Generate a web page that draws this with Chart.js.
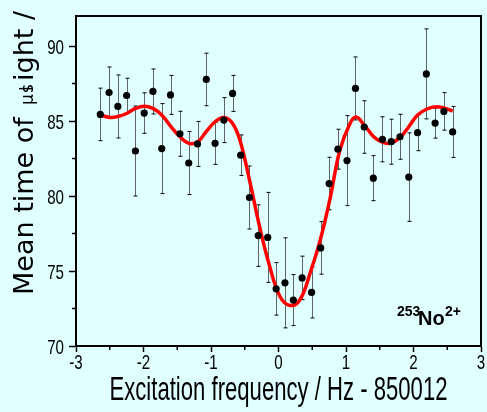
<!DOCTYPE html>
<html>
<head>
<meta charset="utf-8">
<script src="https://cdn.jsdelivr.net/npm/chart.js@4.4.1/dist/chart.umd.min.js"></script>
<style>
  html, body { margin: 0; padding: 0; background: #e0ffff; }
  canvas { display: block; }
</style>
</head>
<body>
<canvas id="tof" width="487" height="412"></canvas>
<script>
/* measured points (freq offset in Hz, mean TOF in µs, 1σ error) */
const FREQ = [
  -2.64, -2.51, -2.38, -2.25, -2.12, -1.99, -1.86, -1.73, -1.60, -1.46,
  -1.33, -1.20, -1.07, -0.94, -0.81, -0.68, -0.56, -0.43, -0.30, -0.16,
  -0.035, 0.096, 0.22, 0.35, 0.49, 0.625, 0.75, 0.88, 1.015, 1.14,
  1.27, 1.405, 1.54, 1.67, 1.80, 1.93, 2.06, 2.19, 2.32, 2.45, 2.58
];
const TOF = [
  85.44, 86.90, 85.97, 86.70, 83.00, 85.53, 86.97, 83.16, 86.74, 84.15,
  82.20, 83.47, 87.77, 83.51, 85.06, 86.84, 82.72, 79.90, 77.36, 77.24,
  73.81, 74.21, 73.06, 74.54, 73.57, 76.54, 80.83, 83.12, 82.36, 87.17,
  84.60, 81.19, 83.78, 83.62, 83.95, 81.26, 84.22, 88.14, 84.86, 85.64,
  84.27
];
const TOF_ERR = [
  1.75, 1.70, 2.10, 1.15, 3.00, 1.35, 1.50, 3.00, 1.30, 1.50,
  2.10, 1.50, 1.75, 1.40, 1.50, 1.20, 1.35, 2.10, 2.05, 3.00,
  1.75, 3.00, 1.70, 1.45, 1.70, 1.75, 1.75, 1.33, 3.00, 2.10,
  1.75, 1.50, 1.50, 1.50, 1.50, 2.95, 1.20, 3.00, 1.00, 1.25,
  1.70
];

/* fitted resonance curve */
const FIT_FREQ = [
  -2.64, -2.50, -2.38, -2.25, -2.12, -1.99, -1.86, -1.73, -1.60, -1.46,
  -1.33, -1.20, -1.07, -0.94, -0.81, -0.68, -0.57, -0.42, -0.27, -0.13,
  0.02, 0.17, 0.32, 0.47, 0.62, 0.76, 0.91, 1.06, 1.15, 1.27,
  1.41, 1.53, 1.65, 1.80, 1.93, 2.06, 2.20, 2.34, 2.46, 2.58
];
const FIT_TOF = [
  85.40, 85.24, 85.30, 85.50, 85.84, 85.99, 85.84, 85.40, 84.66, 83.95,
  83.51, 83.60, 84.30, 84.95, 85.24, 84.84, 83.70, 80.86, 77.75, 75.30,
  73.32, 72.70, 73.10, 74.88, 77.09, 79.75, 83.07, 84.84, 85.26, 84.73,
  83.95, 83.60, 83.51, 83.89, 84.62, 85.40, 85.80, 85.95, 85.85, 85.66
];

const X_TICKS = [-3, -2, -1, 0, 1, 2, 3];
const Y_TICKS = [70, 75, 80, 85, 90];
const X_MINOR = [-2.5, -1.5, -0.5, 0.5, 1.5, 2.5];
const Y_MINOR = [72.5, 77.5, 82.5, 87.5];
const X_TITLE = "Excitation frequency / Hz - 850012";

const SANS = "'Liberation Sans', Arial, sans-serif";
const WIDE = "'DejaVu Sans', Verdana, sans-serif";
const BG = "#e0ffff";

// the source figure uses a condensed face; squeeze regular text horizontally
function narrowText(ctx, text, x, y, font, align, sx) {
  ctx.save();
  ctx.font = font;
  ctx.textAlign = align;
  ctx.textBaseline = "alphabetic";
  ctx.translate(x, y);
  ctx.scale(sx, 1);
  ctx.fillText(text, 0, 0);
  ctx.restore();
}

/* ── plugins ─────────────────────────────────────────── */
const background = {
  id: "background",
  beforeDraw(chart) {
    const { ctx, width, height } = chart;
    ctx.save();
    ctx.fillStyle = BG;
    ctx.fillRect(0, 0, width, height);
    ctx.restore();
  },
};

const errorBars = {
  id: "errorBars",
  beforeDatasetsDraw(chart) {
    const { ctx, scales: { x, y } } = chart;
    ctx.save();
    FREQ.forEach((f, i) => {
      const px = Math.round(x.getPixelForValue(f)) + 0.5;
      const top = y.getPixelForValue(TOF[i] + TOF_ERR[i]);
      const bot = y.getPixelForValue(TOF[i] - TOF_ERR[i]);
      ctx.strokeStyle = "#5c6464";
      ctx.lineWidth = 1;
      ctx.beginPath();
      ctx.moveTo(px, top);
      ctx.lineTo(px, bot);
      ctx.stroke();
      ctx.strokeStyle = "#000";
      ctx.beginPath();
      ctx.moveTo(px - 2, top); ctx.lineTo(px + 2, top);
      ctx.moveTo(px - 2, bot); ctx.lineTo(px + 2, bot);
      ctx.stroke();
    });
    ctx.restore();
  },
};

const decor = {
  id: "decor",
  afterDraw(chart) {
    const { ctx, chartArea: a, scales: { x, y } } = chart;
    ctx.save();

    // frame: top + right
    ctx.strokeStyle = "#000";
    ctx.lineWidth = 2;
    ctx.beginPath();
    ctx.moveTo(a.left - 1, a.top);
    ctx.lineTo(a.right, a.top);
    ctx.lineTo(a.right, a.bottom + 1);
    ctx.stroke();

    // minor ticks
    ctx.lineWidth = 1.5;
    ctx.beginPath();
    X_MINOR.forEach(v => {
      const px = x.getPixelForValue(v);
      ctx.moveTo(px, a.bottom); ctx.lineTo(px, a.bottom + 4);
    });
    Y_MINOR.forEach(v => {
      const py = y.getPixelForValue(v);
      ctx.moveTo(a.left, py); ctx.lineTo(a.left - 4, py);
    });
    ctx.stroke();

    // tick labels + x title, condensed
    ctx.fillStyle = "#000";
    X_TICKS.forEach(v => {
      narrowText(ctx, String(v), x.getPixelForValue(v), a.bottom + 23, `21px ${SANS}`, "center", 0.72);
    });
    Y_TICKS.forEach(v => {
      narrowText(ctx, String(v), a.left - 12, y.getPixelForValue(v) + 7.5, `21px ${SANS}`, "right", 0.72);
    });
    narrowText(ctx, X_TITLE, (a.left + a.right) / 2, 399.5, `33px ${SANS}`, "center", 0.67);

    // y title (as garbled in the source figure)
    ctx.translate(33, 295);
    ctx.rotate(-Math.PI / 2);
    ctx.textBaseline = "alphabetic";
    ctx.textAlign = "left";
    ctx.font = `27px ${WIDE}`;
    ctx.fillText("Mean time of", 0, 0);
    ctx.font = `17px ${WIDE}`;
    ctx.fillText("\u00b5", 190, 0);
    ctx.fillText("s", 202, 0);
    ctx.fillText("l", 204, 0);
    ctx.font = `27px ${WIDE}`;
    ctx.fillText("ight /", 214, 0);
    ctx.setTransform(1, 0, 0, 1, 0, 0);

    // isotope label
    ctx.textAlign = "left";
    ctx.font = `bold 14px ${SANS}`;
    ctx.fillText("253", 397, 316);
    ctx.font = `bold 20px ${SANS}`;
    ctx.fillText("No", 418, 324.5);
    ctx.font = `bold 14px ${SANS}`;
    ctx.fillText("2+", 445, 316);

    ctx.restore();
  },
};

/* ── chart ───────────────────────────────────────────── */
new Chart(document.getElementById("tof"), {
  type: "scatter",
  data: {
    datasets: [
      {
        type: "scatter",
        data: FREQ.map((f, i) => ({ x: f, y: TOF[i] })),
        pointRadius: 3.6,
        pointBackgroundColor: "#000",
        pointBorderColor: "#000",
        pointBorderWidth: 0,
        order: 0,
      },
      {
        type: "line",
        data: FIT_FREQ.map((f, i) => ({ x: f, y: FIT_TOF[i] })),
        borderColor: "#ff0000",
        borderWidth: 3.5,
        pointRadius: 0,
        tension: 0.4,
        fill: false,
        order: 1,
      },
    ],
  },
  options: {
    responsive: false,
    animation: false,
    layout: { padding: { top: 16, right: 6, left: 0, bottom: 0 } },
    plugins: { legend: { display: false }, tooltip: { enabled: false } },
    scales: {
      x: {
        type: "linear",
        min: -3, max: 3,
        afterBuildTicks: s => { s.ticks = X_TICKS.map(v => ({ value: v })); },
        afterFit: s => { s.height = 66; },
        grid: { drawOnChartArea: false, tickLength: 6, tickColor: "#000", tickWidth: 1.5 },
        border: { color: "#000", width: 2 },
        ticks: { display: false },
      },
      y: {
        min: 70, max: 92,
        afterBuildTicks: s => { s.ticks = Y_TICKS.map(v => ({ value: v })); },
        afterFit: s => { s.width = 76; },
        grid: { drawOnChartArea: false, tickLength: 7, tickColor: "#000", tickWidth: 1.5 },
        border: { color: "#000", width: 2 },
        ticks: { display: false },
      },
    },
  },
  plugins: [background, errorBars, decor],
});
</script>
</body>
</html>
